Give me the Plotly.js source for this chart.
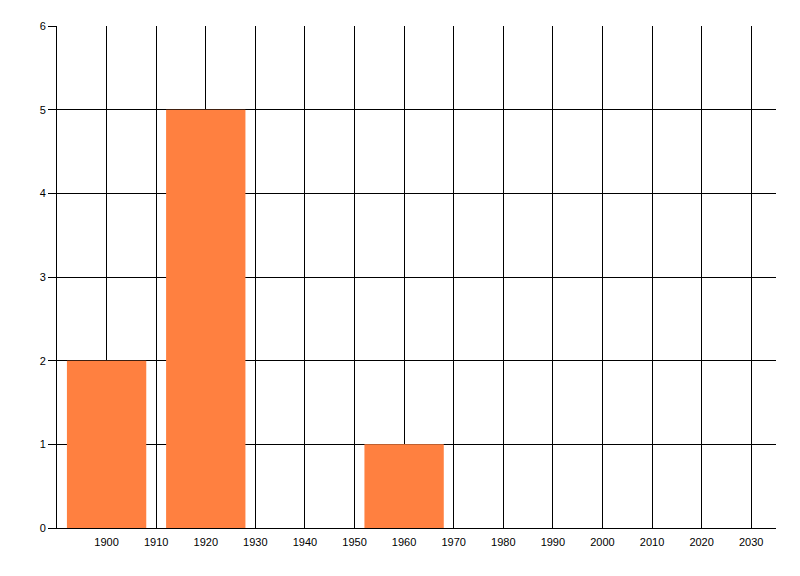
<!DOCTYPE html>
<html>
<head>
<meta charset="utf-8">
<script src="https://cdn.plot.ly/plotly-3.0.1.min.js"></script>
<style>html,body{margin:0;padding:0;background:#fff;}#chart{width:800px;height:576px;}</style>
</head>
<body>
<div id="chart"></div>
<script>
var years = [1900, 1920, 1960];
var counts = [2, 5, 1];
var barWidths = [16, 16, 16];
var xTickVals = [1900, 1910, 1920, 1930, 1940, 1950, 1960, 1970, 1980, 1990, 2000, 2010, 2020, 2030];
var xTickText = ['1900', '1910', '1920', '1930', '1940', '1950', '1960', '1970', '1980', '1990', '2000', '2010', '2020', '2030'];
var yTickVals = [0, 1, 2, 3, 4, 5, 6];

var trace = {
  type: 'bar',
  x: years,
  y: counts,
  width: barWidths,
  marker: {color: '#FF8040', line: {width: 0}},
  hoverinfo: 'x+y'
};

var layout = {
  width: 800, height: 576,
  margin: {l: 57, r: 24, t: 26, b: 48},
  paper_bgcolor: '#ffffff', plot_bgcolor: '#ffffff',
  showlegend: false,
  font: {family: 'Liberation Sans, Arial, sans-serif', size: 11, color: '#000000'},
  xaxis: {
    range: [1890, 2035], tickmode: 'array', tickvals: xTickVals, ticktext: xTickText,
    showgrid: true, gridcolor: '#000000', gridwidth: 1,
    showline: true, linecolor: '#000000', linewidth: 1,
    zeroline: false, ticks: '', ticklabelstandoff: 4,
    tickfont: {family: 'Liberation Sans, Arial, sans-serif', size: 11, color: '#000000'}
  },
  yaxis: {
    range: [0, 6], tickmode: 'array', tickvals: yTickVals,
    showgrid: true, gridcolor: '#000000', gridwidth: 1,
    showline: true, linecolor: '#000000', linewidth: 1,
    zeroline: true, zerolinecolor: '#000000', zerolinewidth: 1,
    ticks: 'outside', ticklen: 8, tickcolor: '#000000', tickwidth: 1,
    tickfont: {family: 'Liberation Sans, Arial, sans-serif', size: 11, color: '#000000'}
  }
};

Plotly.newPlot('chart', [trace], layout, {displayModeBar: false, staticPlot: true});
</script>
</body>
</html>
